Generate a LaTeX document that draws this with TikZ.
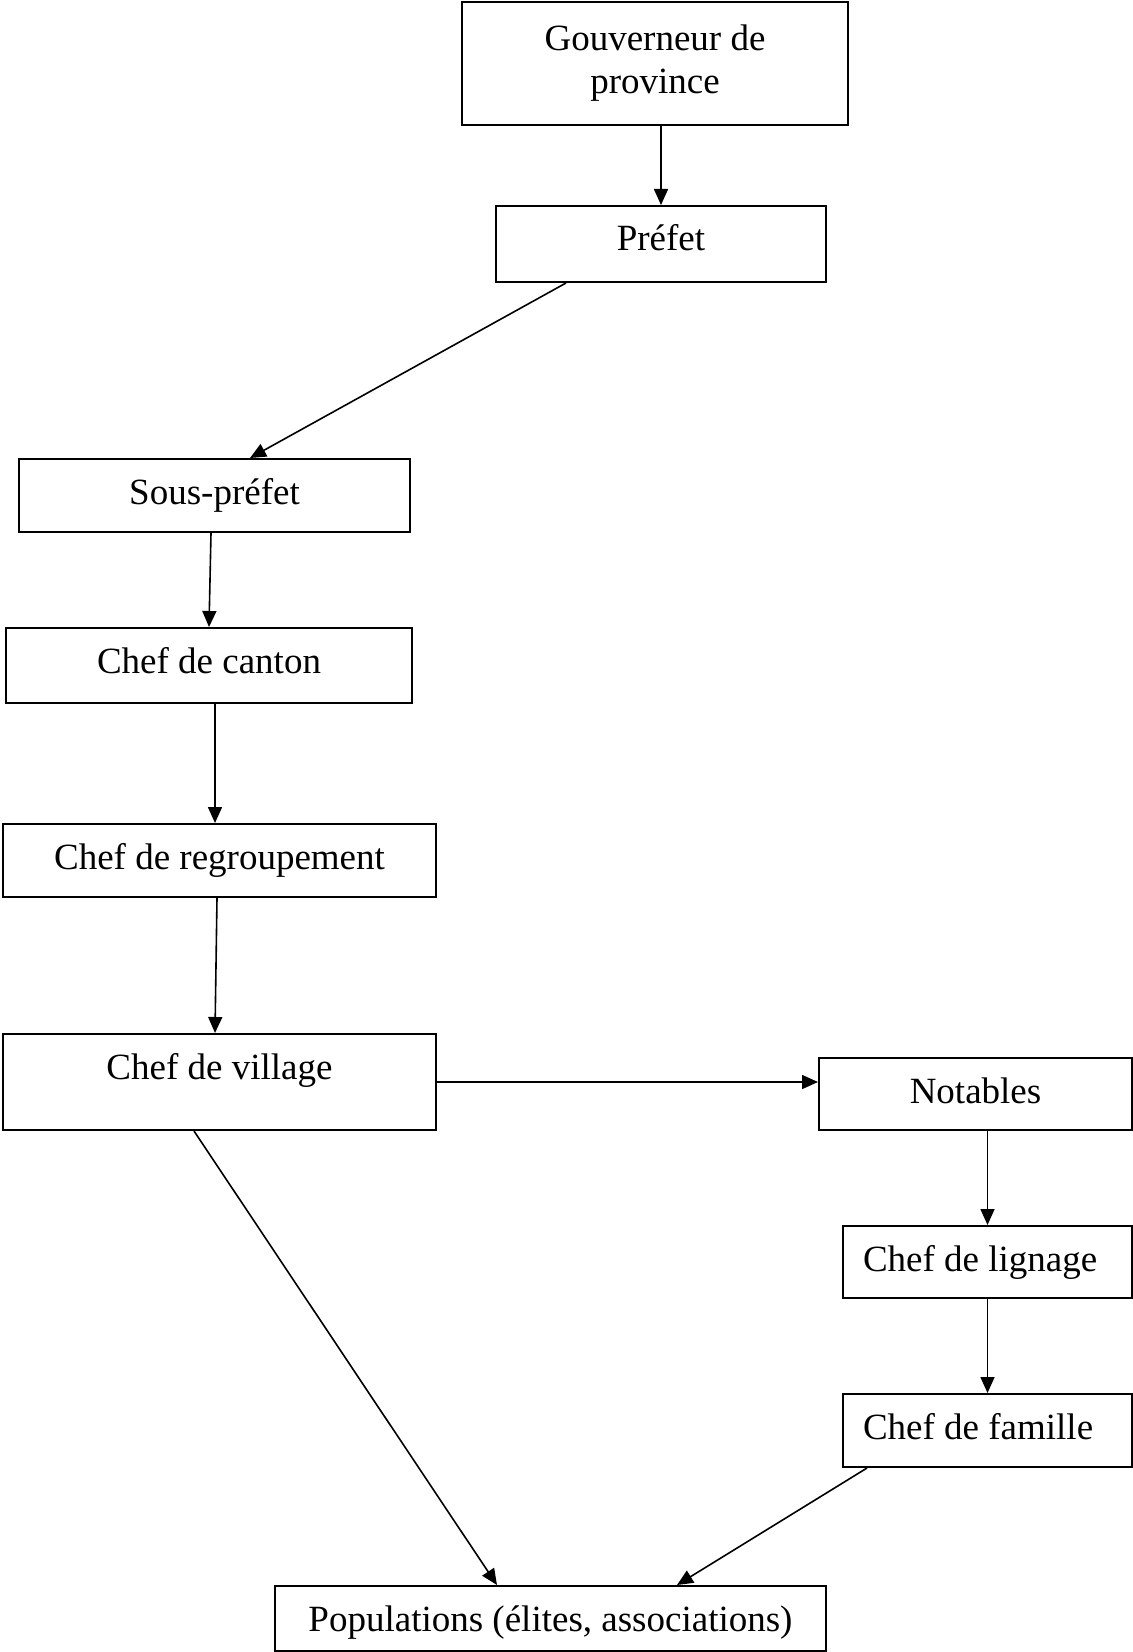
\documentclass[tikz,border=0pt]{standalone}
\usepackage{fontspec}
\setmainfont{Liberation Serif}
\usetikzlibrary{arrows.meta}

\begin{document}
\begin{tikzpicture}[x=0.5pt,y=-0.5pt,->,>={Triangle[length=8pt,width=7pt]},line width=0.8pt,
                    box node/.style={draw,line width=1pt,inner sep=0pt,font=\fontsize{18.5}{21.5}\selectfont},
                    row node/.style={box node,text height=22.5pt,text depth=#1}]
  \useasboundingbox (0,0) rectangle (1133,1652);

  \node[box node,minimum width=193pt,minimum height=61.5pt,align=center] (gouv) at (655,63.5) {Gouverneur de\\province};
  \node[row node=15.5pt,minimum width=165pt] (prefet) at (661,244) {Préfet};
  \node[row node=14pt,minimum width=195.5pt] (sous) at (214.5,495.5) {Sous-préfet};
  \node[row node=15pt,minimum width=203pt] (canton) at (209,665.5) {Chef de canton};
  \node[row node=14pt,minimum width=216.5pt] (regroup) at (219.5,860.5) {Chef de regroupement};
  \node[row node=25.5pt,minimum width=216.5pt] (village) at (219.5,1082) {Chef de village};
  \node[row node=13.5pt,minimum width=156.5pt] (notables) at (975.5,1094) {Notables};
  \node[row node=13.5pt,inner xsep=10pt,text width=124.5pt,align=flush left] (lignage) at (987.5,1262) {Chef de lignage};
  \node[row node=14pt,inner xsep=10pt,text width=124.5pt,align=flush left] (famille) at (987.5,1430.5) {Chef de famille};
  \node[row node=10pt,minimum width=275.5pt] (pop) at (550.5,1618.5) {Populations (élites, associations)};

  \path
    (gouv.south -| prefet.north) edge (prefet.north)
    ([xshift=-47.5pt]prefet.south) edge ([xshift=17.75pt]sous.north)
    ([xshift=-1.75pt]sous.south) edge (canton.north)
    ([xshift=3pt]canton.south) edge ([xshift=3pt]canton.south |- regroup.north)
    ([xshift=-1.25pt]regroup.south) edge ([xshift=-2.25pt]village.north)
    (village.east) edge (village.east -| notables.west)
    ([xshift=-12.75pt]village.south) edge ([xshift=-26.75pt]pop.north)
    (notables.south -| lignage.north) edge (lignage.north)
    (lignage.south) edge (famille.north)
    ([xshift=-60.25pt]famille.south) edge ([xshift=63.25pt]pop.north);
\end{tikzpicture}
\end{document}
